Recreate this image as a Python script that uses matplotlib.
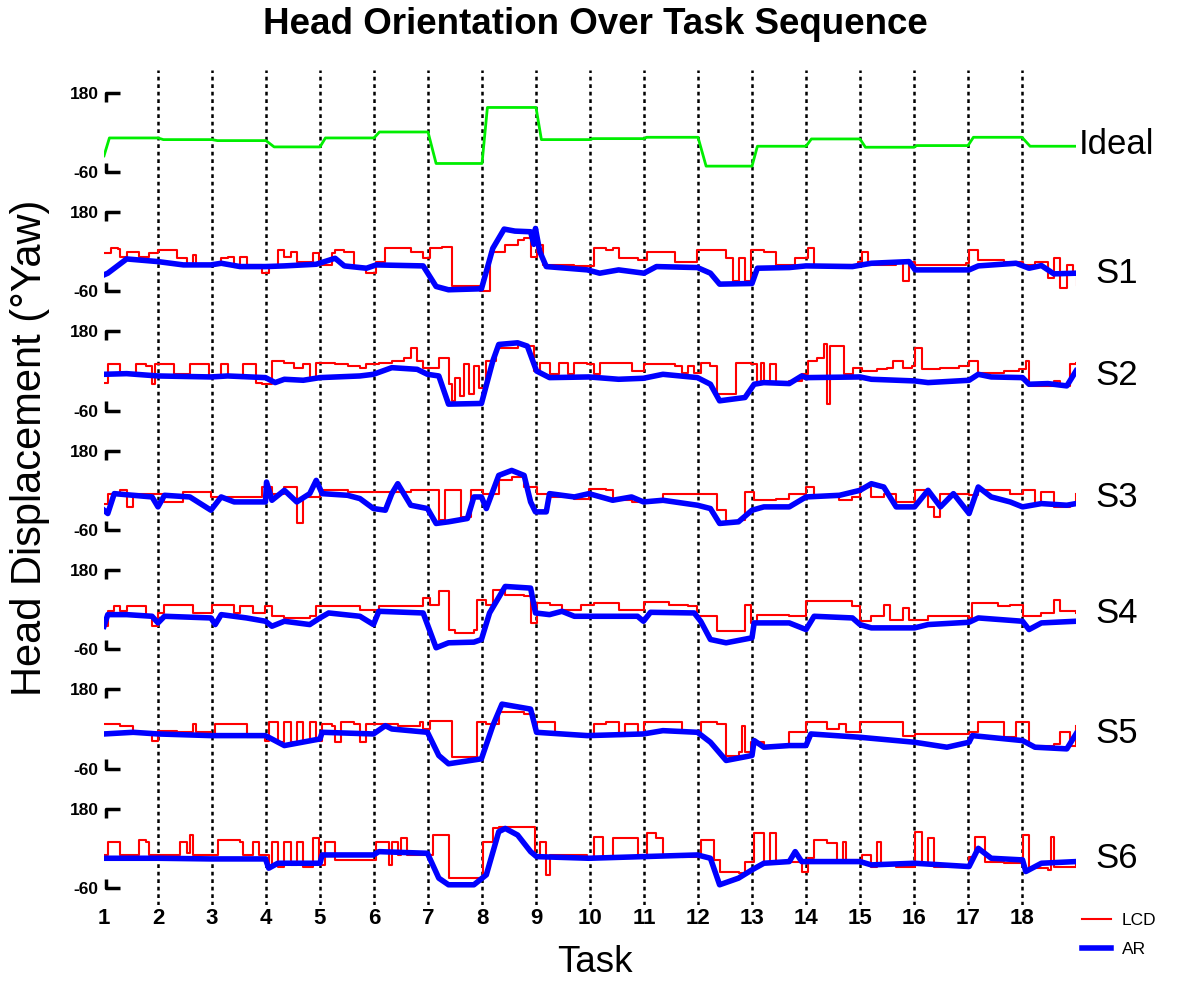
import matplotlib
matplotlib.use("Agg")
import matplotlib.pyplot as plt
import matplotlib.transforms as mtransforms

plt.rcParams['font.family'] = ['Liberation Sans', 'DejaVu Sans']

# ---- data (task position, yaw in degrees) ----
tasks = list(range(1, 19))
row_names = ["Ideal", "S1", "S2", "S3", "S4", "S5", "S6"]

ideal = [(1.0, -11), (1.1, 43), (2.0, 43), (2.1, 38), (3.0, 38), (3.1, 35), (4.0, 35),
         (4.15, 16), (5.0, 16), (5.1, 43), (6.0, 43), (6.1, 61), (7.0, 61), (7.15, -34),
         (8.0, -34), (8.1, 135), (9.0, 135), (9.1, 38), (10.0, 38), (10.05, 41), (11.0, 41),
         (11.05, 45), (12.0, 45), (12.15, -42), (13.0, -42), (13.1, 18), (14.0, 18),
         (14.1, 40), (15.0, 40), (15.1, 15), (16.0, 15), (16.05, 20), (17.0, 20), (17.1, 45),
         (18.0, 45), (18.15, 18), (19.0, 18)]

s1_ar = [(1.00, -10), (1.07, -5), (1.42, 38), (2.00, 30), (2.47, 20), (2.98, 20), (3.17, 25),
         (3.52, 15), (3.99, 15), (4.34, 17), (4.93, 22), (5.28, 40), (5.45, 17), (5.86, 10),
         (6.04, 20), (6.91, 17), (7.15, -45), (7.38, -55), (7.99, -52), (8.20, 70), (8.41, 128),
         (8.61, 122), (8.90, 120), (8.96, 82), (8.99, 130), (9.07, 60), (9.19, 15), (9.95, 5),
         (10.18, -5), (10.53, 5), (11.00, -5), (11.23, 15), (11.99, 12), (12.23, -5),
         (12.40, -38), (13.00, -36), (13.10, 10), (13.69, 12), (14.00, 17), (14.86, 15),
         (15.21, 25), (15.91, 30), (16.02, 5), (17.02, 5), (17.19, 17), (17.89, 25),
         (18.13, 10), (18.36, 18), (18.59, -7), (19.00, -5)]
s1_lcd = [(1.00, 55), (1.13, 70), (1.25, 68), (1.30, 45), (1.42, 60), (1.54, 60), (1.65, 45),
          (1.83, 55), (2.00, 65), (2.24, 65), (2.36, 40), (2.53, 20), (2.65, 50), (2.71, 20),
          (3.06, 20), (3.17, 40), (3.29, 45), (3.41, 15), (3.52, 45), (3.64, 20), (3.93, -5),
          (4.05, 15), (4.22, 65), (4.34, 45), (4.46, 60), (4.57, 30), (4.75, 30), (4.87, 55),
          (4.98, 20), (5.22, 55), (5.28, 65), (5.45, 60), (5.63, 15), (5.86, -5), (6.04, 30),
          (6.21, 70), (6.44, 70), (6.68, 60), (6.91, 40), (7.03, 70), (7.26, 75), (7.44, -45),
          (7.96, -58), (8.14, 60), (8.43, 80), (8.66, 95), (8.78, 100), (8.90, 45), (9.01, 80),
          (9.13, 20), (9.48, 20), (9.71, 17), (10.07, 70), (10.18, 70), (10.30, 65),
          (10.42, 70), (10.53, 40), (10.88, 35), (11.06, 60), (11.47, 60), (11.58, 30),
          (11.82, 30), (11.99, 65), (12.29, 65), (12.52, 40), (12.64, -30), (12.75, 40),
          (12.87, -30), (12.99, 65), (13.22, 60), (13.45, 20), (13.80, 40), (14.04, 70),
          (14.15, 20), (14.74, 20), (14.97, 30), (15.03, 60), (15.15, 20), (15.67, 30),
          (15.79, -30), (15.91, 30), (16.02, 20), (16.96, 25), (17.02, 65), (17.19, 35),
          (17.66, 30), (18.01, 20), (18.24, 30), (18.48, -20), (18.59, 40), (18.71, -50),
          (18.83, 20), (18.94, 0), (19.02, -40)]

s2_ar = [(1.00, 50), (1.42, 52), (2.00, 45), (2.98, 42), (3.29, 45), (3.99, 40), (4.17, 25),
         (4.34, 35), (4.69, 32), (5.00, 40), (5.74, 45), (5.99, 50), (6.33, 70), (6.80, 65),
         (6.99, 50), (7.20, 45), (7.38, -40), (7.99, -38), (8.20, 90), (8.31, 140), (8.66, 145),
         (8.84, 135), (9.01, 60), (9.25, 40), (9.98, 42), (10.53, 35), (10.99, 38),
         (11.35, 50), (11.99, 40), (12.23, 20), (12.40, -30), (12.87, -20), (13.04, 20),
         (13.22, 25), (13.69, 22), (13.92, 45), (14.00, 40), (15.00, 42), (15.21, 35),
         (16.01, 30), (16.26, 25), (17.02, 32), (17.19, 50), (17.43, 42), (18.01, 40),
         (18.13, 20), (18.48, 22), (18.83, 15), (19.00, 60)]
s2_lcd = [(1.00, 25), (1.07, 80), (1.25, 82), (1.30, 50), (1.54, 50), (1.60, 80), (1.77, 75),
          (1.89, 20), (1.95, 80), (2.24, 82), (2.30, 50), (2.53, 50), (2.59, 80), (2.88, 82),
          (2.94, 45), (3.17, 80), (3.29, 45), (3.52, 40), (3.58, 80), (3.76, 80), (3.82, 25),
          (3.93, 20), (4.11, 90), (4.34, 85), (4.52, 70), (4.69, 80), (4.81, 40), (4.93, 85),
          (5.28, 80), (5.51, 75), (5.74, 70), (5.86, 82), (6.09, 85), (6.33, 90), (6.56, 100),
          (6.68, 130), (6.79, 90), (6.91, 70), (7.03, 70), (7.20, 100), (7.38, 20),
          (7.44, -30), (7.50, 40), (7.59, -15), (7.67, 80), (7.75, -10), (7.85, 75), (7.94, 10),
          (8.08, 90), (8.26, 130), (8.66, 140), (8.78, 135), (8.96, 60), (9.07, 85), (9.25, 50),
          (9.42, 85), (9.60, 50), (9.71, 85), (9.95, 82), (10.07, 50), (10.18, 85),
          (10.65, 85), (10.77, 60), (11.00, 80), (11.58, 75), (11.70, 55), (11.82, 75),
          (11.93, 55), (12.05, 85), (12.23, 75), (12.35, -10), (12.64, -10), (12.70, 85),
          (12.99, 80), (13.10, 25), (13.16, 85), (13.22, 20), (13.34, 80), (13.45, 20),
          (13.69, 30), (13.92, 50), (14.04, 90), (14.21, 100), (14.33, 140), (14.39, -40),
          (14.44, 135), (14.64, 135), (14.70, 50), (14.87, 70), (15.03, 60), (15.32, 65),
          (15.50, 70), (15.61, 90), (15.79, 70), (15.97, 75), (16.02, 130), (16.14, 65),
          (16.49, 70), (16.84, 75), (17.02, 90), (17.19, 55), (17.66, 60), (17.95, 65),
          (18.07, 90), (18.13, 15), (18.59, 30), (18.71, 15), (18.89, 80), (19.00, 85)]

s3_ar = [(1.00, 0), (1.07, -10), (1.19, 50), (1.54, 45), (1.89, 40), (2.00, 10), (2.12, 45),
         (2.59, 40), (2.98, 0), (3.17, 40), (3.41, 25), (3.99, 25), (4.01, 85), (4.11, 30),
         (4.34, 60), (4.57, 25), (4.81, 50), (4.93, 90), (5.04, 50), (5.51, 45), (5.74, 35),
         (5.99, 5), (6.21, 0), (6.33, 50), (6.44, 80), (6.68, 15), (6.99, 5), (7.15, -40),
         (7.38, -35), (7.73, -25), (7.85, 40), (7.99, 40), (8.08, 5), (8.31, 105), (8.55, 120),
         (8.78, 105), (8.90, 25), (8.99, -5), (9.19, -5), (9.25, 50), (9.71, 40), (9.98, 50),
         (10.42, 30), (10.77, 40), (10.99, 25), (11.35, 30), (11.99, 15), (12.23, 5),
         (12.40, -40), (12.75, -35), (13.00, 0), (13.22, 10), (13.69, 10), (14.00, 40),
         (14.62, 45), (15.00, 60), (15.21, 80), (15.44, 70), (15.67, 10), (16.01, 10),
         (16.26, 60), (16.49, 10), (16.73, 50), (17.02, -10), (17.19, 70), (17.43, 40),
         (17.78, 25), (18.01, 10), (18.36, 20), (18.83, 15), (19.00, 20)]
s3_lcd = [(1.00, 20), (1.07, 50), (1.30, 60), (1.42, 10), (1.54, 50), (2.00, 50), (2.12, 25),
          (2.47, 55), (2.98, 40), (3.76, 40), (3.93, 70), (4.11, 50), (4.34, 70), (4.57, -40),
          (4.69, 40), (5.00, 60), (5.51, 55), (6.68, 60), (7.03, 60), (7.20, -30), (7.32, 60),
          (7.61, -20), (7.79, 60), (8.02, 50), (8.31, 90), (8.55, 100), (8.78, 70), (9.01, 50),
          (9.25, 40), (9.71, 35), (9.98, 65), (10.30, 60), (10.42, 30), (10.77, 25),
          (11.35, 50), (12.23, 50), (12.35, 0), (12.52, -35), (12.75, -30), (12.87, 55),
          (13.04, 30), (13.45, 35), (13.69, 50), (14.00, 70), (14.15, 40), (14.62, 30),
          (14.86, 40), (15.00, 70), (15.21, 40), (15.44, 50), (15.67, 25), (16.02, 60),
          (16.26, 10), (16.37, -20), (16.49, 50), (17.02, 45), (17.19, 60), (17.78, 50),
          (18.01, 60), (18.24, 20), (18.36, 55), (18.59, 10), (18.89, 20), (19.00, 50)]

s4_ar = [(1.00, 10), (1.07, 45), (1.42, 45), (1.89, 40), (2.00, 20), (2.12, 40), (2.98, 35),
         (3.06, 15), (3.17, 45), (3.64, 35), (3.99, 25), (4.11, 10), (4.34, 25), (4.81, 15),
         (5.00, 35), (5.16, 50), (5.74, 40), (5.99, 15), (6.09, 55), (6.91, 50), (6.99, 15),
         (7.15, -55), (7.38, -40), (7.85, -38), (7.99, -30), (8.14, 50), (8.43, 130),
         (8.90, 125), (8.99, 50), (9.25, 45), (9.48, 55), (9.71, 40), (10.88, 40), (10.99, 25),
         (11.12, 52), (11.93, 50), (12.05, 25), (12.23, -30), (12.52, -40), (13.00, -25),
         (13.04, 20), (13.69, 20), (14.00, 0), (14.15, 40), (14.86, 35), (15.00, 15),
         (15.21, 5), (16.01, 5), (16.26, 15), (17.02, 22), (17.19, 35), (18.01, 25),
         (18.13, 0), (18.36, 20), (19.00, 25)]
s4_lcd = [(1.00, 10), (1.07, 55), (1.19, 70), (1.30, 55), (1.42, 70), (1.65, 70), (1.77, 45),
          (1.89, 10), (2.00, 50), (2.12, 75), (2.59, 75), (2.65, 50), (2.94, 50), (3.00, 75),
          (3.41, 50), (3.52, 70), (3.76, 50), (3.99, 70), (4.11, 40), (4.34, 35), (4.81, 40),
          (4.93, 70), (5.51, 70), (5.74, 60), (6.09, 70), (6.68, 70), (6.91, 95), (7.03, 75),
          (7.20, 115), (7.38, 0), (7.50, -10), (7.85, 0), (7.91, 90), (8.08, 75), (8.20, 120),
          (8.43, 105), (8.78, 100), (8.90, 20), (9.01, 80), (9.25, 75), (9.48, 60), (9.83, 75),
          (10.07, 80), (10.53, 60), (11.00, 82), (11.47, 75), (11.82, 70), (11.99, 40),
          (12.17, 40), (12.35, -5), (12.75, -5), (12.87, 75), (12.99, 20), (13.10, 45),
          (13.69, 40), (14.00, 85), (14.86, 70), (15.00, 25), (15.21, 40), (15.44, 75),
          (15.56, 30), (15.79, 65), (15.91, 30), (16.26, 40), (17.02, 35), (17.08, 80),
          (17.55, 70), (17.78, 75), (18.01, 40), (18.36, 50), (18.59, 90), (18.71, 55),
          (19.00, 50)]

s5_ar = [(1.00, 45), (1.54, 50), (2.00, 45), (2.98, 40), (3.99, 40), (4.34, 10), (5.00, 30),
         (5.04, 50), (5.99, 45), (6.21, 70), (6.33, 60), (6.99, 50), (7.20, -20), (7.38, -45),
         (7.99, -30), (8.20, 70), (8.37, 135), (8.90, 120), (9.01, 50), (9.95, 40), (10.99, 45),
         (11.35, 55), (11.99, 50), (12.23, 20), (12.52, -35), (13.00, -20), (13.04, 25),
         (13.22, 5), (13.69, 10), (14.00, 10), (14.09, 45), (15.00, 35), (16.01, 20),
         (16.61, 5), (17.02, 20), (17.08, 40), (18.01, 25), (18.24, 5), (18.83, 0), (19.00, 45)]
s5_lcd = [(1.00, 75), (1.30, 70), (1.54, 50), (1.89, 25), (2.00, 55), (2.36, 50), (2.65, 75),
          (2.71, 50), (2.98, 45), (3.06, 75), (3.52, 75), (3.64, 35), (3.99, 25), (4.05, 80),
          (4.22, 20), (4.34, 80), (4.46, 20), (4.57, 80), (4.69, 20), (4.81, 80), (4.93, 25),
          (5.04, 75), (5.22, 70), (5.28, 20), (5.39, 80), (5.63, 75), (5.74, 20), (5.86, 75),
          (6.33, 75), (6.44, 70), (6.85, 80), (6.91, 60), (7.03, 85), (7.26, 85), (7.44, -25),
          (7.85, -25), (7.91, 80), (8.08, 75), (8.31, 110), (8.78, 105), (8.96, 60), (9.01, 80),
          (9.25, 80), (9.36, 45), (9.95, 40), (10.07, 75), (10.30, 80), (10.53, 40),
          (10.65, 75), (10.88, 45), (11.00, 80), (11.70, 50), (11.99, 50), (12.05, 80),
          (12.35, 75), (12.52, -20), (12.75, -10), (12.81, 70), (12.87, -10), (12.99, 20),
          (13.22, 10), (13.51, 10), (13.69, 50), (14.00, 80), (14.39, 60), (14.62, 75),
          (14.74, 50), (15.00, 80), (15.56, 80), (15.79, 40), (16.02, 45), (17.02, 50),
          (17.19, 80), (17.66, 35), (17.89, 80), (18.13, 10), (18.59, 15), (18.71, 50),
          (18.89, 10), (19.00, 70)]

s6_ar = [(1.00, 30), (2.00, 30), (2.98, 28), (3.99, 28), (4.05, 0), (4.22, 15), (5.00, 15),
         (5.04, 40), (5.99, 40), (6.09, 50), (6.99, 45), (7.20, -30), (7.38, -50), (7.85, -50),
         (8.08, -20), (8.31, 110), (8.43, 120), (8.66, 100), (8.90, 50), (9.01, 35), (9.98, 30),
         (10.99, 35), (11.99, 40), (12.23, 30), (12.40, -50), (12.75, -30), (13.00, -5),
         (13.22, 15), (13.69, 20), (13.80, 50), (13.92, 20), (15.00, 20), (15.21, 10),
         (16.01, 15), (17.02, 5), (17.19, 60), (17.43, 30), (18.01, 25), (18.07, -10),
         (18.36, 15), (19.00, 20)]
s6_lcd = [(1.00, 40), (1.07, 80), (1.25, 80), (1.30, 40), (1.60, 40), (1.65, 85), (1.77, 80),
          (1.83, 40), (2.36, 40), (2.41, 80), (2.53, 45), (2.59, 100), (2.65, 40), (3.06, 40),
          (3.12, 85), (3.52, 80), (3.58, 40), (3.76, 80), (3.87, 40), (4.05, 5), (4.11, 80),
          (4.22, 5), (4.34, 80), (4.46, 10), (4.57, 80), (4.69, 5), (4.87, 90), (4.98, 10),
          (5.10, 80), (5.22, 80), (5.28, 25), (5.74, 25), (6.03, 80), (6.21, 80), (6.27, 10),
          (6.33, 80), (6.44, 40), (6.50, 90), (6.62, 40), (6.99, 40), (7.09, 100), (7.26, 100),
          (7.38, -30), (7.85, -30), (8.02, 80), (8.14, 80), (8.20, 120), (8.31, 125),
          (8.90, 125), (8.99, 40), (9.07, 80), (9.19, -20), (9.25, 40), (9.95, 35), (10.07, 95),
          (10.24, 35), (10.42, 90), (10.88, 40), (11.06, 105), (11.23, 90), (11.35, 40),
          (11.70, 35), (12.05, 85), (12.29, 25), (12.40, -10), (12.75, -15), (12.87, 20),
          (13.04, 105), (13.22, 15), (13.34, 105), (13.45, 20), (13.69, 20), (13.92, -10),
          (14.04, 30), (14.15, 85), (14.39, 75), (14.57, 20), (14.68, 80), (14.74, 25),
          (15.03, 40), (15.21, 5), (15.32, 80), (15.38, 10), (15.67, 5), (16.02, 110),
          (16.14, 15), (16.26, 90), (16.37, 5), (17.02, 35), (17.13, 95), (17.31, 20),
          (17.66, 15), (18.01, 100), (18.13, 0), (18.48, -5), (18.54, 95), (18.59, 5),
          (19.00, 20)]

lcd_rows = [s1_lcd, s2_lcd, s3_lcd, s4_lcd, s5_lcd, s6_lcd]
ar_rows = [s1_ar, s2_ar, s3_ar, s4_ar, s5_ar, s6_ar]
label_y = [24, -6, 45, 39, 48, 45, 30]   # where each row name sits (deg within its row)

# ---- layout ----
ROW = 360   # vertical spacing between stacked rows, in degrees
fig = plt.figure(figsize=(11.78, 9.82), dpi=100)
ax = fig.add_axes([104/1178, 77/982, 972/1178, 835/982])
ax.set_xlim(1, 19)
ax.set_ylim(-60 - 6*ROW - 51, 180 + 68)
for s in ax.spines.values():
    s.set_visible(False)

for t in tasks[1:]:
    ax.axvline(t, color="black", lw=1.8, ls=(0, (1.5, 1.5)), zorder=1)

def xy(pts, off):
    return [p[0] for p in pts], [p[1] - off for p in pts]

x, y = xy(ideal, 0)
ax.plot(x, y, color="#00ee00", lw=2, zorder=3)
for i in range(6):
    off = ROW*(i + 1)
    x, y = xy(lcd_rows[i], off)
    ax.plot(x, y, color="#ff0000", lw=1.5, zorder=3, drawstyle="steps-post",
            label="LCD" if i == 0 else None)
    x, y = xy(ar_rows[i], off)
    ax.plot(x, y, color="#0000ff", lw=4, zorder=4, label="AR" if i == 0 else None)

# small bracket marks at 180 / -60 on each row
trans = mtransforms.blended_transform_factory(ax.transAxes, ax.transData)
yt, yl = [], []
for k in range(7):
    off = ROW*k
    ax.plot([0.002, 0.002, 0.016], [180 - off - 28, 180 - off, 180 - off], color="black",
            lw=2.5, transform=trans, clip_on=False, solid_capstyle="butt")
    ax.plot([0.002, 0.002, 0.016], [-60 - off + 28, -60 - off, -60 - off], color="black",
            lw=2.5, transform=trans, clip_on=False, solid_capstyle="butt")
    yt += [180 - off, -60 - off]
    yl += ["180", "-60"]
    ax.text(19.75, label_y[k] - off, row_names[k], fontsize=25, ha="center", va="center")

ax.set_yticks(yt)
ax.set_yticklabels(yl, fontsize=12.5, fontweight="bold")
ax.tick_params(axis="y", length=0, pad=4)
ax.set_xticks(tasks)
ax.set_xticklabels([str(t) for t in tasks], fontsize=16, fontweight="bold")
ax.tick_params(axis="x", length=0, pad=2)

fig.text(0.505, 1 - 25/982, "Head Orientation Over Task Sequence", fontsize=26.5,
         fontweight="bold", ha="center", va="center")
fig.text(30/1178, 1 - 448/982, "Head Displacement (\u00b0Yaw)", fontsize=30, rotation=90,
         ha="center", va="center")
fig.text(595/1178, 1 - 963/982, "Task", fontsize=26.5, ha="center", va="center")

ax.legend(loc="upper left", bbox_to_anchor=(1066/1178, 1 - 897/982),
          bbox_transform=fig.transFigure, frameon=False, fontsize=12.5,
          handlelength=1.7, handletextpad=0.6, labelspacing=0.8)

fig.savefig("out.png", dpi=100)
